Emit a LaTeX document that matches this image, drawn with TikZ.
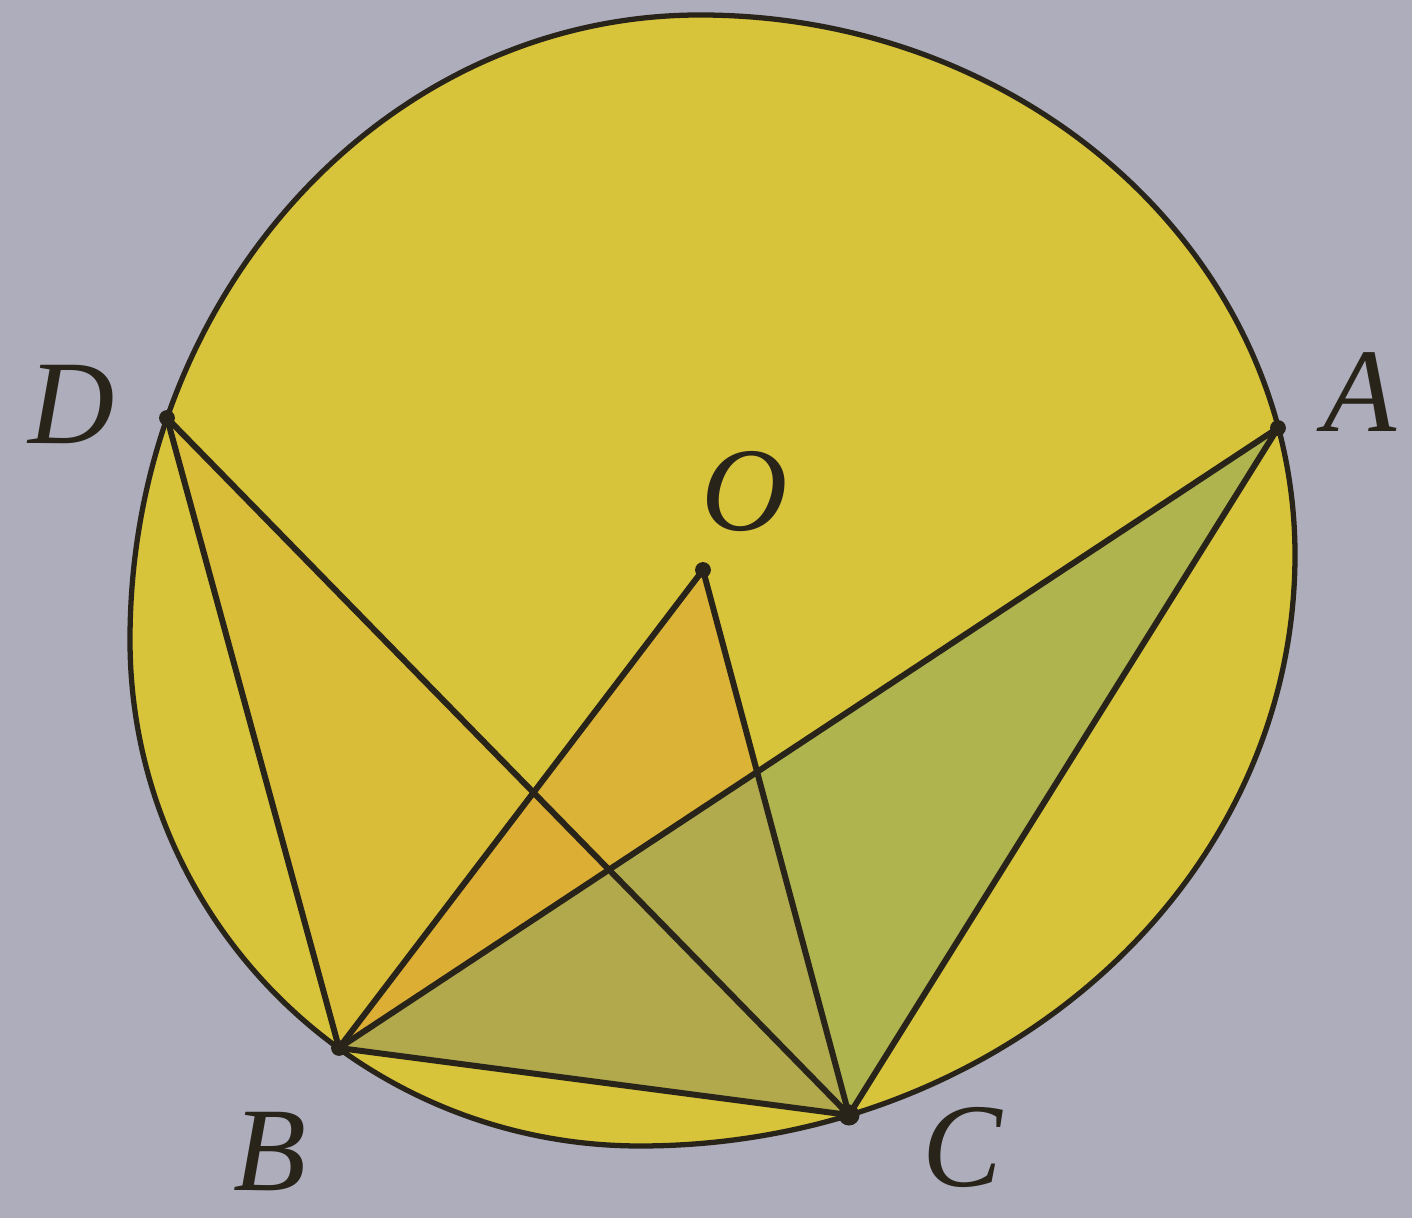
\documentclass[tikz,border=0pt]{standalone}
\usepackage{fontspec}
\newfontfamily\ptfont{Liberation Serif}
\usetikzlibrary{positioning}
\definecolor{paper}{RGB}{174,173,188}
\definecolor{disc}{RGB}{216,196,58}
\definecolor{ink}{RGB}{40,36,26}
\definecolor{tintO}{RGB}{228,140,45}
\definecolor{tintA}{RGB}{120,160,110}

\begin{document}
\begin{tikzpicture}[
    x=0.1mm, y=-0.1mm,
    seg/.style={draw=ink, line width=1.7pt, line cap=round, line join=round},
    rim/.style={draw=ink, line width=1.5pt, fill=disc},
    dot/.style={circle, fill=ink, inner sep=0pt, minimum size=#1},
    dot/.default=4.5pt,
    lbl/.style={text=ink, font=\ptfont\itshape\fontsize{34}{40}\selectfont, inner sep=0pt}
  ]
\fill[paper] (0,0) rectangle (1412,1218);
\useasboundingbox (0,0) rectangle (1412,1218);

% points
\coordinate (D) at (167,418);
\coordinate (A) at (1278,428);
\coordinate (O) at (703,570);
\coordinate (B) at (339,1048);
\coordinate (C) at (849,1115);

% circle (photo is a little out of round)
\draw[rim] (700,15) .. controls (1028.6,15) and (1295,256.8) .. (1295,555)
  .. controls (1295,881.4) and (1001.8,1146) .. (640,1146)
  .. controls (358.3,1146) and (130,919.5) .. (130,640)
  .. controls (130,294.8) and (385.2,15) .. (700,15) -- cycle;

% shaded triangles
\fill[tintO, opacity=0.12] (D) -- (B) -- (C) -- cycle;
\fill[tintO, opacity=0.30] (O) -- (B) -- (C) -- cycle;
\fill[tintA, opacity=0.42] (A) -- (B) -- (C) -- cycle;

% chords
\draw[seg] (D) -- (B);
\draw[seg] (D) -- (C);
\draw[seg] (O) -- (B);
\draw[seg] (O) -- (C);
\draw[seg] (A) -- (B);
\draw[seg] (A) -- (C);
\draw[seg] (B) -- (C);

\foreach \p in {D,A,O,B}
  \node[dot] at (\p) {};
\node[dot=6pt] at (C) {};

% labels
\node[lbl] (labD) at (72,405) {D};
\node[lbl] (labA) at (1360,392) {A};
\node[lbl] (labO) at (745,492) {O};
\node[lbl] (labB) at (270,1152) {B};
\node[lbl] (labC) at (962,1148) {C};
\end{tikzpicture}
\end{document}
